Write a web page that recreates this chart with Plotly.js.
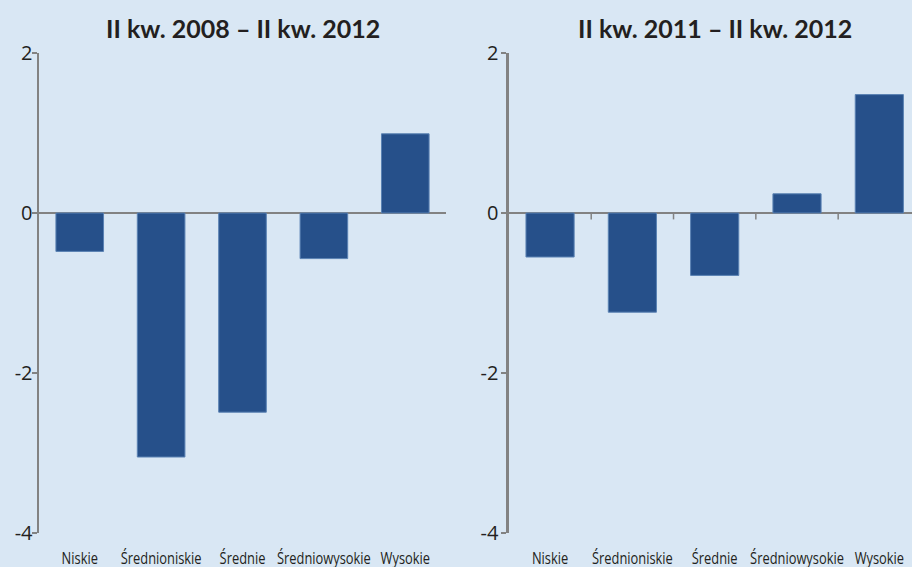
<!DOCTYPE html>
<html>
<head>
<meta charset="utf-8">
<script src="https://cdn.plot.ly/plotly-3.0.1.min.js"></script>
<style>
  html, body { margin: 0; padding: 0; background: #d9e7f4; }
  #chart { width: 912px; height: 567px; }
</style>
</head>
<body>
<div id="chart"></div>
<script>
// Categories (skill/income groups) shared by both panels
const categories = ['Niskie', 'Średnioniskie', 'Średnie', 'Średniowysokie', 'Wysokie'];

// Change over II kw. 2008 – II kw. 2012
const values2008 = [-0.48, -3.05, -2.49, -0.57, 0.99];
// Change over II kw. 2011 – II kw. 2012
const values2011 = [-0.55, -1.24, -0.78, 0.24, 1.48];

const title2008 = 'II kw. 2008 – II kw. 2012';
const title2011 = 'II kw. 2011 – II kw. 2012';

const yTicks = [-4, -2, 0, 2];

const bg = '#d9e7f4';
const barFill = '#26508a';
const barEdge = '#5a82b3';
const axisGrey = '#828282';
const textCol = '#231f20';
const tickFont = { family: '"Open Sans", "Noto Sans", sans-serif', size: 16.5, color: textCol };
const yTickFont = { family: '"Open Sans", "Noto Sans", sans-serif', size: 20, color: textCol };
const titleFont = { family: 'Lato, "Open Sans", sans-serif', size: 25, color: textCol, weight: 700 };

const barStyle = { color: barFill, line: { color: barEdge, width: 1 } };

const traces = [
  { type: 'bar', x: categories, y: values2008, xaxis: 'x', yaxis: 'y', marker: barStyle, hoverinfo: 'x+y' },
  { type: 'bar', x: categories, y: values2011, xaxis: 'x2', yaxis: 'y2', marker: barStyle, hoverinfo: 'x+y' }
];

function yAxis(anchor, standoff) {
  return {
    anchor: anchor,
    range: [-4, 2],
    tickvals: yTicks,
    ticktext: yTicks.map(String),
    ticks: 'outside',
    ticklen: 5,
    tickwidth: 1.5,
    tickcolor: axisGrey,
    showline: true,
    linecolor: axisGrey,
    linewidth: 2.5,
    showgrid: false,
    zeroline: true,
    zerolinecolor: axisGrey,
    zerolinewidth: 2.5,
    tickfont: yTickFont,
    ticklabelstandoff: standoff,
    fixedrange: true
  };
}

function xAxis(anchor, domain, range) {
  return {
    anchor: anchor,
    domain: domain,
    type: 'category',
    range: range,
    showline: false,
    showgrid: false,
    zeroline: false,
    ticks: '',
    tickfont: tickFont,
    tickangle: 0,
    ticklabelstandoff: 13,
    fixedrange: true
  };
}

// Short tick marks hanging under the zero line between categories (right panel)
const boundaryTicks = categories.slice(1).map((c, i) => ({
  type: 'line', xref: 'x2', yref: 'y2',
  x0: i + 0.5, x1: i + 0.5, y0: 0, y1: -0.08,
  line: { color: axisGrey, width: 1.5 }
}));

const layout = {
  width: 912,
  height: 567,
  margin: { l: 0, r: 0, t: 53, b: 34 },
  paper_bgcolor: bg,
  plot_bgcolor: bg,
  showlegend: false,
  bargap: 0.415,
  xaxis: xAxis('y', [0.0428, 0.489], [-0.5, 4.5]),
  yaxis: yAxis('x', -5),
  xaxis2: xAxis('y2', [0.558, 1.0], [-0.5, 4.397]),
  yaxis2: yAxis('x2', -1),
  shapes: boundaryTicks,
  annotations: [
    { text: title2008, xref: 'x', yref: 'paper', x: 2, y: 1, yshift: 8, yanchor: 'bottom', xanchor: 'center', showarrow: false, font: titleFont },
    { text: title2011, xref: 'x2', yref: 'paper', x: 2, y: 1, yshift: 8, yanchor: 'bottom', xanchor: 'center', showarrow: false, font: titleFont }
  ]
};

// Narrow the category labels so the long names sit side by side like a condensed face
function condenseLabels(gd) {
  gd.querySelectorAll('.xtick text, .x2tick text').forEach(t => {
    const w = t.getComputedTextLength();
    t.setAttribute('textLength', (w * 0.78).toFixed(1));
    t.setAttribute('lengthAdjust', 'spacingAndGlyphs');
  });
}

Plotly.newPlot('chart', traces, layout, { displayModeBar: false, staticPlot: true })
  .then(condenseLabels);
</script>
</body>
</html>
